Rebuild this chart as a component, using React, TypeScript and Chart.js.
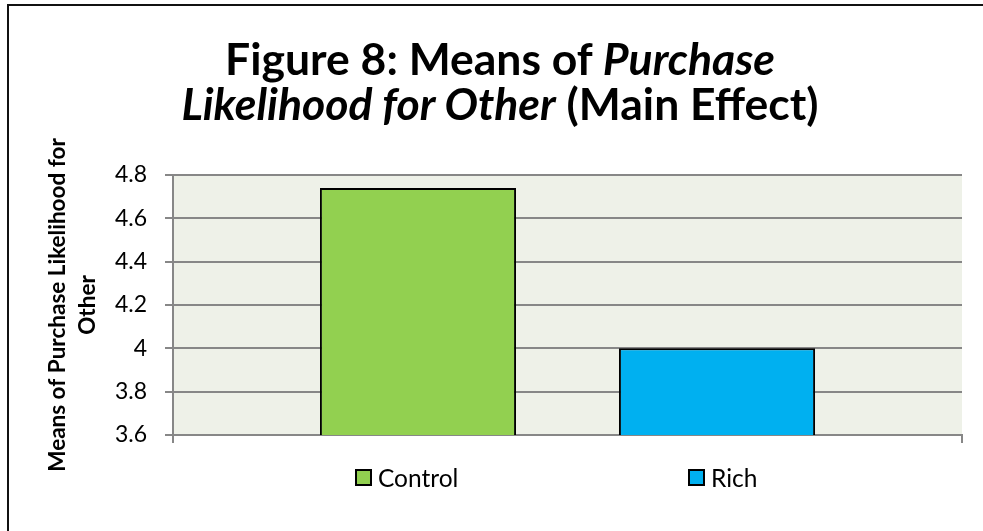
import React, { useEffect, useRef } from "react";
import { Chart, registerables } from "chart.js";

Chart.register(...registerables);

const categories = [""];
const seriesNames = ["Control", "Rich"];
const controlValues = [4.74];
const richValues = [4.0];
const seriesColors = ["#92D050", "#00B0F0"];
const yTickValues = [3.6, 3.8, 4.0, 4.2, 4.4, 4.6, 4.8];
const yTickLabels = ["3.6", "3.8", "4", "4.2", "4.4", "4.6", "4.8"];
const yAxisTitle = ["Means of Purchase Likelihood for", "Other"];

const FONT = "Lato, 'Open Sans', sans-serif";
const GRID = "#878787";

const plotBg = {
  id: "plotBg",
  beforeDraw(chart: any) {
    const { ctx, chartArea } = chart;
    if (!chartArea) return;
    ctx.save();
    ctx.fillStyle = "#EEF1E8";
    ctx.fillRect(chartArea.left, chartArea.top, chartArea.right - chartArea.left, chartArea.bottom - chartArea.top);
    ctx.restore();
  },
};

export default function App() {
  const ref = useRef<HTMLCanvasElement | null>(null);

  useEffect(() => {
    document.body.style.margin = "0";
    const canvas = ref.current;
    if (!canvas) return;
    const seriesData = [controlValues, richValues];
    const chart = new Chart(canvas, {
      type: "bar",
      data: {
        labels: categories,
        datasets: seriesNames.map((name, i) => ({
          label: name,
          data: seriesData[i],
          backgroundColor: seriesColors[i],
          borderColor: "#000000",
          borderWidth: 2,
          categoryPercentage: 0.758,
          barPercentage: 0.656,
        })),
      },
      options: {
        responsive: false,
        animation: false,
        devicePixelRatio: 1,
        layout: { padding: { top: 175, right: 21, bottom: 0, left: 0 } },
        plugins: {
          legend: { display: false },
          title: { display: false },
          tooltip: { enabled: false },
        },
        scales: {
          x: {
            type: "category",
            offset: true,
            grid: {
              offset: true,
              drawOnChartArea: false,
              drawTicks: true,
              tickLength: 8,
              color: GRID,
              lineWidth: 2,
            },
            border: { display: true, color: GRID, width: 2 },
            ticks: { display: true, font: { family: FONT, size: 23 }, color: "#000" },
            afterFit(scale: any) {
              scale.height = 96;
            },
          },
          y: {
            type: "linear",
            min: 3.6,
            max: 4.8,
            afterBuildTicks(scale: any) {
              scale.ticks = yTickValues.map((v) => ({ value: v }));
            },
            afterFit(scale: any) {
              scale.width = 173;
            },
            grid: { color: GRID, lineWidth: 2, tickLength: 8, drawTicks: true },
            border: { display: true, color: GRID, width: 2 },
            ticks: {
              padding: 18,
              color: "#000",
              font: { family: FONT, size: 23 },
              callback: (v: any) => {
                const idx = yTickValues.findIndex((t) => Math.abs(t - Number(v)) < 1e-6);
                return idx >= 0 ? yTickLabels[idx] : "";
              },
            },
            title: {
              display: true,
              text: yAxisTitle,
              color: "#000",
              font: { family: FONT, size: 22.5, weight: "bold", lineHeight: 1.33 },
              padding: { top: 43, bottom: 0 },
            },
          },
        },
      },
      plugins: [plotBg],
    });
    return () => chart.destroy();
  }, []);

  const legendX = [355, 688];

  return (
    <div style={{ position: "relative", width: 983, height: 531, overflow: "hidden", background: "#fff" }}>
      <div
        style={{
          position: "absolute",
          left: 7,
          top: 4,
          width: 1200,
          height: 800,
          borderLeft: "2px solid #111",
          borderTop: "2px solid #111",
        }}
      />
      <canvas ref={ref} width={983} height={531} style={{ position: "absolute", left: 0, top: 0 }} />
      <div
        style={{
          position: "absolute",
          left: 8,
          top: 35,
          width: 984,
          textAlign: "center",
          fontFamily: FONT,
          fontWeight: "bold",
          fontSize: 44.5,
          lineHeight: "45px",
          color: "#000",
        }}
      >
        <div>
          Figure 8: Means of <i>Purchase</i>
        </div>
        <div>
          <i>Likelihood for Other</i> (Main Effect)
        </div>
      </div>
      {seriesNames.map((name, i) => (
        <div
          key={name}
          style={{
            position: "absolute",
            left: legendX[i],
            top: 462,
            height: 30,
            display: "flex",
            alignItems: "center",
            fontFamily: FONT,
            fontSize: 24.5,
            color: "#000",
            whiteSpace: "nowrap",
          }}
        >
          <span
            style={{
              display: "inline-block",
              width: 13,
              height: 13,
              background: seriesColors[i],
              border: "2px solid #000",
              marginRight: 6,
            }}
          />
          <span>{name}</span>
        </div>
      ))}
    </div>
  );
}
